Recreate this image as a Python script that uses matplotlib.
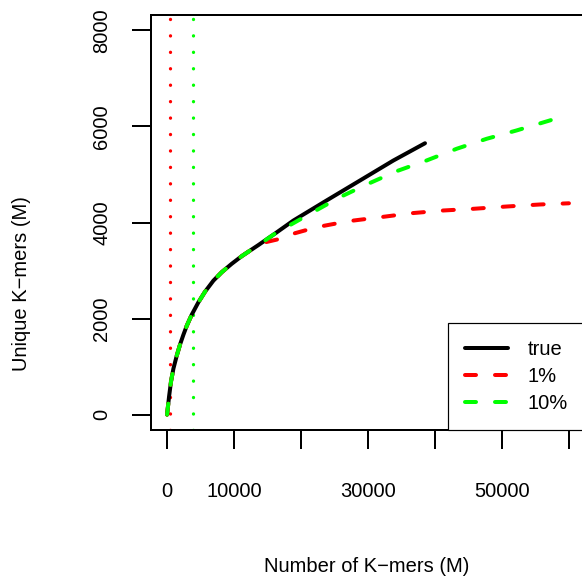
import matplotlib
matplotlib.use('Agg')
import matplotlib.pyplot as plt
from matplotlib.lines import Line2D

# données (millions)
x_true = [0, 300, 600, 950, 1450, 1940, 2430, 2940, 3680, 4680, 5670, 6920, 8160,
          9650, 11150, 13630, 16120, 18850, 23830, 28810, 33780, 38510]
y_true = [0, 380, 700, 960, 1230, 1460, 1660, 1850, 2080, 2340, 2560, 2790, 2965,
          3140, 3300, 3530, 3770, 4040, 4460, 4875, 5290, 5650]

x_1pct = [0, 300, 600, 950, 1450, 1940, 2430, 2940, 3680, 4680, 5670, 6920, 8160,
          9650, 11150, 13630, 14400, 16870, 17860, 22340, 27100, 31870, 36520,
          41240, 45720, 50700, 55670, 60000]
y_1pct = [0, 380, 700, 960, 1230, 1460, 1660, 1850, 2080, 2340, 2560, 2790, 2965,
          3140, 3300, 3530, 3580, 3660, 3729, 3903, 4028, 4111, 4194,
          4250, 4285, 4333, 4375, 4400]

x_10pct = [0, 300, 600, 950, 1450, 1940, 2430, 2940, 3680, 4680, 5670, 6920, 8160,
           9650, 11150, 13630, 16120, 21340, 25820, 29800, 34280, 38760, 43240,
           47720, 52200, 57160, 57900]
y_10pct = [0, 380, 700, 960, 1230, 1460, 1660, 1850, 2080, 2340, 2560, 2790, 2965,
           3140, 3300, 3530, 3770, 4181, 4528, 4792, 5069, 5292, 5535,
           5743, 5917, 6125, 6160]

v_1pct = 400
v_10pct = 3900

xticks = [0, 10000, 20000, 30000, 40000, 50000, 60000]
xlabels = ['0', '10000', '', '30000', '', '50000', '']
yticks = [0, 2000, 4000, 6000, 8000]
ylabels = ['0', '2000', '4000', '6000', '8000']

plt.rcParams['font.family'] = ['Liberation Sans', 'DejaVu Sans']
plt.rcParams['lines.scale_dashes'] = False

px = 0.72  # points par pixel à 100 dpi
fs = 14.5

fig = plt.figure(figsize=(5.82, 5.79), dpi=100)
ax = fig.add_axes([151/582, 1 - 430/579, (585 - 151)/582, (430 - 15)/579])

lw = 4 * px
dash = (0, (11 * px, 19 * px))
dot = (0, (0.1, 16.3 * px))

# lignes verticales pointillées
ax.axvline(v_1pct, color='#FF0000', lw=3.3*px, linestyle=dot, dash_capstyle='round')
ax.axvline(v_10pct, color='#00FF00', lw=3.3*px, linestyle=dot, dash_capstyle='round')

# courbes
ax.plot(x_true, y_true, color='black', lw=lw, solid_capstyle='round', solid_joinstyle='round')
ax.plot(x_1pct, y_1pct, color='#FF0000', lw=lw, linestyle=dash, dash_capstyle='round')
ax.plot(x_10pct, y_10pct, color='#00FF00', lw=lw, linestyle=dash, dash_capstyle='round')

ax.set_xlim(-2400, 62400)
ax.set_ylim(-320, 8320)

ax.set_xticks(xticks)
ax.set_xticklabels(xlabels)
ax.set_yticks(yticks)
ax.set_yticklabels(ylabels, rotation=90, va='center')
ax.tick_params(axis='both', direction='out', length=19*px, width=2*px, labelsize=fs)
ax.tick_params(axis='x', pad=24)
ax.tick_params(axis='y', pad=15)
for s in ax.spines.values():
    s.set_linewidth(2*px)

# légende
handles = [
    Line2D([], [], color='black', lw=lw, solid_capstyle='round'),
    Line2D([], [], color='#FF0000', lw=lw, linestyle=dash, dash_capstyle='round'),
    Line2D([], [], color='#00FF00', lw=lw, linestyle=dash, dash_capstyle='round'),
]
leg = ax.legend(handles, ['true', '1%', '10%'], loc='lower right', borderaxespad=0,
                fancybox=False, edgecolor='black', framealpha=1, fontsize=fs,
                handlelength=2.15, handletextpad=0.95, borderpad=0.85, labelspacing=0.4)
leg.get_frame().set_linewidth(1.2*px)

fig.text(367/582, 1 - 566/579, 'Number of K\u2212mers (M)', ha='center', va='center', fontsize=fs)
fig.text(22/582, 1 - 284/579, 'Unique K\u2212mers (M)', ha='center', va='center',
         rotation=90, fontsize=fs)

plt.savefig('out.png', dpi=100)
